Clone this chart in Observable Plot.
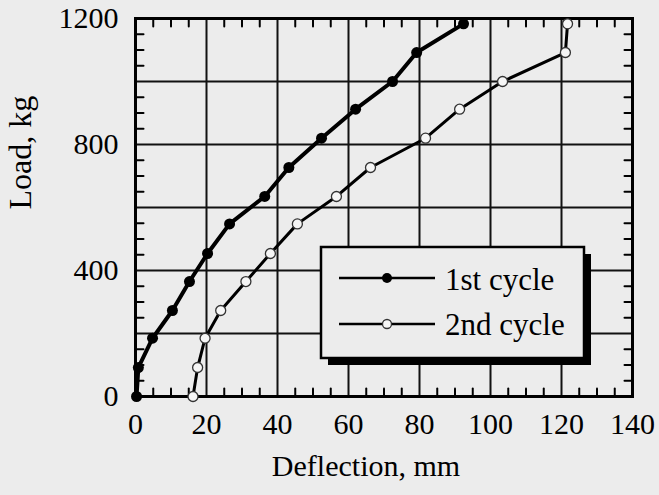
<!DOCTYPE html>
<html><head><meta charset="utf-8">
<script src="https://cdn.jsdelivr.net/npm/d3@7"></script>
<script src="https://cdn.jsdelivr.net/npm/@observablehq/plot@0.6"></script>
<style>
html,body{margin:0;padding:0;background:#ececec;}
#chart{position:relative;width:659px;height:495px;}
svg{display:block;}
#chart svg, #chart svg text{font-family:"Liberation Serif","Times New Roman",Times,"DejaVu Serif",serif !important;}
</style></head><body><div id="chart"></div>
<script>
// Load steps (kg)
const load = [0, 92, 185, 273, 365, 454, 548, 635, 727, 820, 912, 1000, 1092, 1183];
// Deflection (mm), 1st cycle
const deflection1 = [0.3, 0.8, 4.8, 10.4, 15.2, 20.3, 26.5, 36.4, 43.2, 52.4, 62.0, 72.4, 79.2, 92.4];
// Deflection (mm), 2nd cycle
const deflection2 = [16.2, 17.5, 19.6, 24.0, 31.1, 38.0, 45.6, 56.6, 66.2, 81.7, 91.3, 103.4, 121.1, 121.7];

const seriesNames = ["1st cycle", "2nd cycle"];
const xTicks = [0, 20, 40, 60, 80, 100, 120, 140];
const yTicks = [0, 400, 800, 1200];
const yGrid = [0, 200, 400, 600, 800, 1000, 1200];
const xMinor = [5, 10, 15, 25, 30, 35, 45, 50, 55, 65, 70, 75, 85, 90, 95, 105, 110, 115, 125, 130, 135];
const yMinor = [50, 100, 150, 250, 300, 350, 450, 500, 550, 650, 700, 750, 850, 900, 950, 1050, 1100, 1150];
const xTitle = "Deflection, mm";
const yTitle = "Load, kg";

const cycle1 = load.map((y, i) => ({x: deflection1[i], y}));
const cycle2 = load.map((y, i) => ({x: deflection2[i], y}));

const tickShape = {draw(context, l) { context.moveTo(0, 0); context.lineTo(0, -l); }};
const TL = 8;
const FONT = "Liberation Serif, Times New Roman, serif";

const plot = Plot.plot({
  width: 659,
  height: 495,
  marginLeft: 135,
  marginRight: 27,
  marginTop: 18,
  marginBottom: 99,
  style: {fontFamily: FONT, background: "#ececec", color: "#000"},
  x: {domain: [0, 140]},
  y: {domain: [0, 1200]},
  marks: [
    Plot.gridX(xTicks, {stroke: "#111", strokeOpacity: 1, strokeWidth: 2}),
    Plot.gridY(yGrid, {stroke: "#111", strokeOpacity: 1, strokeWidth: 2}),
    Plot.vector(xMinor, {x: d => d, frameAnchor: "bottom", length: TL, rotate: 0, anchor: "start", shape: tickShape, strokeWidth: 2}),
    Plot.vector(xMinor, {x: d => d, frameAnchor: "top", length: TL, rotate: 180, anchor: "start", shape: tickShape, strokeWidth: 2}),
    Plot.vector(yMinor, {y: d => d, frameAnchor: "left", length: TL, rotate: 90, anchor: "start", shape: tickShape, strokeWidth: 2}),
    Plot.vector(yMinor, {y: d => d, frameAnchor: "right", length: TL, rotate: 270, anchor: "start", shape: tickShape, strokeWidth: 2}),
    Plot.frame({stroke: "#000", strokeWidth: 3}),
    Plot.line(cycle2, {x: "x", y: "y", stroke: "#000", strokeWidth: 3}),
    Plot.dot(cycle2, {x: "x", y: "y", r: 5, fill: "#f6f6f6", stroke: "#333", strokeWidth: 1.3}),
    Plot.line(cycle1, {x: "x", y: "y", stroke: "#000", strokeWidth: 4}),
    Plot.dot(cycle1, {x: "x", y: "y", r: 5.5, fill: "#000"}),
    Plot.axisX(xTicks, {tickSize: 0, tickPadding: 16, fontSize: 30, label: null, tickFormat: d => String(d)}),
    Plot.axisY(yTicks, {tickSize: 0, tickPadding: 17, fontSize: 30, label: null, tickFormat: d => String(d)}),
    Plot.text([xTitle], {frameAnchor: "bottom", dx: -18, dy: 79, fontSize: 30}),
    Plot.text([yTitle], {frameAnchor: "left", dx: -115, dy: 2, rotate: -90, fontSize: 32})
  ]
});
document.getElementById("chart").appendChild(plot);

// Legend inside the plot (boxed, with drop shadow)
const svg = d3.select(plot);
const g = svg.append("g").attr("font-family", FONT).attr("text-anchor", "start");
const bx = 321, by = 247, bw = 263, bh = 111;
g.append("rect").attr("x", bx + 7).attr("y", by + 7).attr("width", bw).attr("height", bh).attr("fill", "#000");
g.append("rect").attr("x", bx).attr("y", by).attr("width", bw).attr("height", bh).attr("fill", "#ececec").attr("stroke", "#000").attr("stroke-width", 2.5);
const rows = [{y: 278, base: 290, filled: true}, {y: 324, base: 335, filled: false}];
rows.forEach((row, i) => {
  g.append("line").attr("x1", 339).attr("x2", 435).attr("y1", row.y).attr("y2", row.y).attr("stroke", "#000").attr("stroke-width", 2.5);
  g.append("circle").attr("cx", 387).attr("cy", row.y).attr("r", row.filled ? 5 : 4.5)
    .attr("fill", row.filled ? "#000" : "#f6f6f6").attr("stroke", row.filled ? "none" : "#333").attr("stroke-width", 1.3);
  g.append("text").attr("x", 445).attr("y", row.base).attr("font-size", 31).attr("fill", "#000").attr("text-anchor", "start").text(seriesNames[i]);
});
</script>
</body></html>
